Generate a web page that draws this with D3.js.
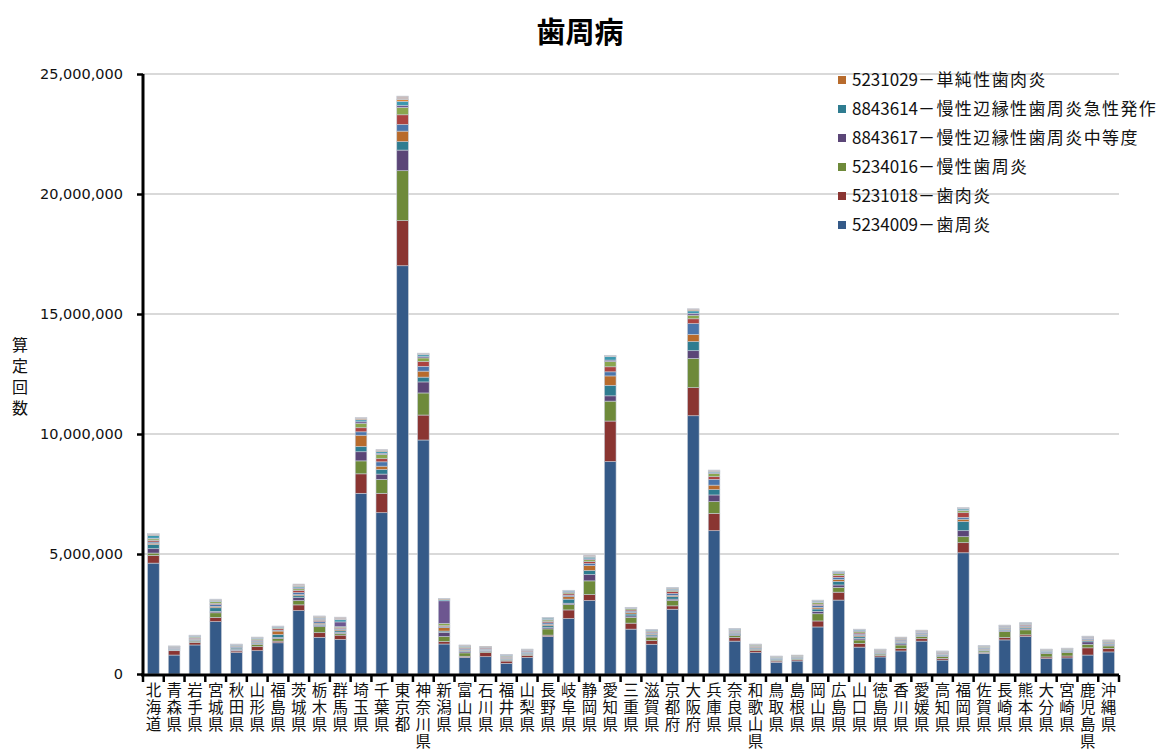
<!DOCTYPE html>
<html><head><meta charset="utf-8">
<script src="https://cdn.jsdelivr.net/npm/d3@7"></script>
<style>
body{margin:0;background:#fff;}
svg{display:block;}
</style></head>
<body><svg id="c" width="1162" height="749"></svg>
<script>
const prefectures = ["北海道","青森県","岩手県","宮城県","秋田県","山形県","福島県","茨城県","栃木県","群馬県","埼玉県","千葉県","東京都","神奈川県","新潟県","富山県","石川県","福井県","山梨県","長野県","岐阜県","静岡県","愛知県","三重県","滋賀県","京都府","大阪府","兵庫県","奈良県","和歌山県","鳥取県","島根県","岡山県","広島県","山口県","徳島県","香川県","愛媛県","高知県","福岡県","佐賀県","長崎県","熊本県","大分県","宮崎県","鹿児島県","沖縄県"];

const seriesNames = ["5234009－歯周炎","5231018－歯肉炎","5234016－慢性歯周炎","8843617－慢性辺縁性歯周炎中等度","8843614－慢性辺縁性歯周炎急性発作","5231029－単純性歯肉炎","その他7","その他8","その他9","その他10","その他11","その他12","その他13"];
const legendCount = 6;

const s1 = [4620000,790000,1210000,2180000,890000,970000,1300000,2640000,1530000,1440000,7530000,6720000,17010000,9750000,1250000,690000,720000,440000,690000,1560000,2310000,3060000,8850000,1870000,1240000,2700000,10760000,5970000,1370000,890000,490000,540000,1960000,3080000,1120000,710000,960000,1370000,580000,5050000,860000,1420000,1560000,640000,670000,790000,920000];
const s2 = [320000,180000,110000,180000,70000,170000,70000,240000,190000,180000,810000,810000,1880000,1040000,100000,50000,170000,100000,80000,60000,360000,250000,1690000,250000,150000,140000,1170000,720000,150000,80000,50000,50000,250000,330000,150000,60000,100000,100000,70000,420000,40000,100000,70000,70000,80000,300000,150000];
const s3 = [100000,30000,50000,190000,30000,100000,110000,180000,250000,70000,540000,580000,2080000,920000,210000,140000,50000,40000,50000,260000,220000,570000,830000,240000,150000,220000,1220000,490000,80000,60000,40000,40000,300000,200000,150000,60000,150000,100000,80000,250000,60000,250000,210000,140000,150000,150000,100000];
const s4 = [180000,30000,30000,60000,30000,30000,40000,120000,50000,50000,380000,220000,860000,460000,180000,60000,30000,30000,30000,50000,60000,260000,220000,60000,40000,60000,320000,280000,40000,30000,20000,20000,100000,100000,60000,30000,50000,30000,30000,250000,30000,40000,40000,30000,30000,100000,40000];
const s5 = [170000,20000,40000,150000,60000,40000,120000,80000,50000,60000,220000,190000,350000,200000,50000,40000,30000,40000,30000,80000,170000,170000,440000,80000,50000,100000,380000,220000,60000,40000,30000,30000,100000,150000,70000,40000,60000,50000,40000,380000,40000,50000,50000,40000,30000,50000,40000];
const s6 = [60000,20000,20000,60000,20000,40000,150000,50000,50000,50000,470000,140000,440000,250000,140000,30000,30000,20000,20000,60000,100000,210000,390000,60000,40000,60000,300000,190000,40000,30000,20000,20000,70000,80000,50000,20000,40000,30000,30000,100000,30000,30000,40000,20000,20000,40000,40000];
const s7 = [50000,10000,20000,70000,40000,50000,40000,80000,60000,40000,140000,180000,280000,200000,40000,50000,30000,30000,30000,60000,60000,80000,170000,60000,40000,70000,450000,240000,40000,30000,20000,20000,70000,90000,60000,30000,50000,40000,30000,80000,30000,30000,40000,20000,20000,40000,40000];
const s8 = [70000,30000,30000,50000,20000,30000,60000,100000,60000,40000,170000,130000,400000,200000,40000,40000,40000,30000,30000,60000,60000,80000,210000,50000,40000,80000,200000,110000,30000,20000,20000,20000,60000,80000,50000,30000,40000,30000,30000,190000,20000,30000,40000,20000,20000,30000,30000];
const s9 = [60000,10000,40000,70000,30000,40000,30000,60000,40000,40000,190000,180000,310000,150000,100000,30000,20000,30000,30000,60000,50000,80000,220000,50000,40000,60000,150000,140000,30000,30000,20000,20000,60000,70000,60000,20000,40000,30000,20000,80000,30000,30000,30000,20000,20000,30000,30000];
const s10 = [30000,20000,20000,20000,10000,20000,20000,40000,40000,200000,60000,50000,80000,50000,940000,30000,10000,20000,10000,30000,30000,40000,60000,30000,20000,30000,80000,30000,20000,10000,10000,10000,30000,30000,30000,10000,20000,20000,10000,30000,10000,20000,20000,10000,10000,20000,10000];
const s11 = [120000,10000,20000,40000,20000,30000,30000,60000,40000,90000,80000,70000,170000,80000,50000,20000,10000,20000,20000,50000,40000,70000,140000,10000,30000,50000,100000,50000,20000,10000,10000,10000,40000,40000,40000,10000,20000,20000,20000,50000,10000,20000,20000,10000,10000,10000,10000];
const s12 = [30000,10000,10000,20000,10000,10000,10000,30000,30000,30000,40000,30000,80000,30000,30000,20000,10000,10000,10000,10000,10000,30000,30000,10000,10000,20000,40000,20000,10000,10000,10000,10000,20000,20000,10000,10000,10000,10000,10000,20000,10000,10000,10000,10000,10000,10000,10000];
const s13 = [40000,10000,20000,30000,20000,10000,20000,70000,30000,80000,60000,60000,140000,40000,20000,10000,0,10000,10000,20000,20000,60000,30000,10000,10000,20000,50000,40000,10000,10000,10000,0,20000,20000,20000,10000,0,0,10000,40000,10000,10000,10000,10000,10000,10000,0];

const yTicks = [0,5000000,10000000,15000000,20000000,25000000];
const title = "歯周病";
const yLabel = "算定回数";

const seriesValues = [s1,s2,s3,s4,s5,s6,s7,s8,s9,s10,s11,s12,s13];
const colors = ["#355A88","#8A3532","#6E8A3A","#5B4677","#2F7C90","#B86B2C","#4A75AB","#AC4341","#8AA64E","#6D5690","#3C98AE","#DC8534","#C9BDBD"];

const table = prefectures.map((p,i)=>{
  const row = {pref:p};
  seriesValues.forEach((arr,k)=>{ row["k"+k] = arr[i]; });
  return row;
});
const keys = seriesValues.map((_,k)=>"k"+k);
const stacked = d3.stack().keys(keys)(table);

const svg = d3.select("#c");
const L=143, R=1119, T=74, B=674;

const x = d3.scaleBand().domain(prefectures).range([L,R]).paddingInner(0.44).paddingOuter(0.22);
const y = d3.scaleLinear().domain([0,25000000]).range([B,T]);

// gridlines
svg.append("g").selectAll("line").data(yTicks.filter(d=>d>0)).join("line")
  .attr("x1",L).attr("x2",R).attr("y1",d=>y(d)).attr("y2",d=>y(d))
  .attr("stroke","#d9d9d9").attr("stroke-width",2);

// title
svg.append("text").attr("x",580).attr("y",43).attr("text-anchor","middle")
  .attr("font-family","'Noto Sans CJK JP'").attr("font-weight","bold").attr("font-size",29)
  .attr("fill","#000").text(title);

// legend (reverse order)
const lg = svg.append("g");
const legendItems = d3.range(legendCount).reverse();
legendItems.forEach((k,r)=>{
  const yy = 80 + r*29;
  lg.append("rect").attr("x",838).attr("y",yy-4).attr("width",8).attr("height",8).attr("fill",colors[k]);
  const name = seriesNames[k];
  const idx = name.indexOf("－");
  const t = lg.append("text").attr("x",852).attr("y",yy+6)
    .attr("font-family","'Noto Sans CJK JP'").attr("font-size",17).attr("fill","#111");
  t.append("tspan").text(name.slice(0,idx));
  t.append("tspan").attr("letter-spacing","1.4px").text(name.slice(idx));
});

// bars
const gb = svg.append("g");
stacked.forEach((layer,k)=>{
  gb.append("g").attr("fill",colors[k]).selectAll("rect").data(layer).join("rect")
    .attr("x",d=>x(d.data.pref)).attr("width",x.bandwidth())
    .attr("y",d=>y(d[1])).attr("height",d=>Math.max(0,y(d[0])-y(d[1])))
    .attr("stroke","#c6ccd6").attr("stroke-width",0.6);
});

// y axis
const ya = svg.append("g").attr("transform",`translate(${L},0)`)
  .call(d3.axisLeft(y).tickValues(yTicks).tickSize(6).tickPadding(14).tickFormat(d3.format(",")));
ya.select(".domain").attr("stroke","#000").attr("stroke-width",3).attr("d",`M0,${T}V${B+2}`);
ya.selectAll(".tick line").attr("stroke","#000").attr("stroke-width",2.5);
ya.selectAll(".tick text").attr("font-family","'DejaVu Sans'").attr("font-size",14.5).attr("fill","#111");

// x axis
const xa = svg.append("g").attr("transform",`translate(0,${B+1})`);
xa.append("line").attr("x1",L-2).attr("x2",R).attr("y1",0).attr("y2",0).attr("stroke","#000").attr("stroke-width",3);
const step = x.step();
const boundaries = prefectures.map(p=>x(p)-(step-x.bandwidth())/2).concat([R]);
xa.selectAll("line.tk").data(boundaries).join("line").attr("class","tk")
  .attr("x1",d=>d).attr("x2",d=>d).attr("y1",0).attr("y2",7).attr("stroke","#000").attr("stroke-width",2.5);

// x labels: vertical writing, one text each
const xl = svg.append("g").attr("font-family","'Noto Sans CJK JP'").attr("font-size",15.5).attr("fill","#111");
prefectures.forEach(p=>{
  const cx = x(p)+x.bandwidth()/2;
  xl.append("text").attr("x",cx).attr("y",682)
    .style("writing-mode","vertical-rl").style("text-orientation","upright")
    .attr("letter-spacing","1.5px").text(p);
});

// y label vertical
svg.append("text").attr("font-family","'Noto Sans CJK JP'").attr("font-size",16).attr("fill","#111")
  .attr("x",20).attr("y",337).style("writing-mode","vertical-rl").style("text-orientation","upright")
  .attr("letter-spacing","5px").text(yLabel);
</script>
</body></html>
